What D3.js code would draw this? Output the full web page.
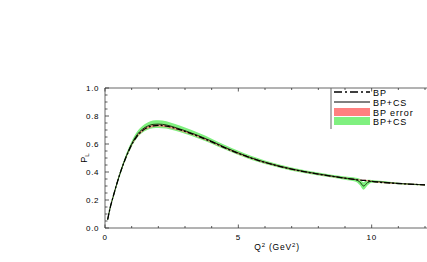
<!DOCTYPE html>
<html>
<head>
<meta charset="utf-8">
<script src="https://cdn.jsdelivr.net/npm/d3@7"></script>
<style>
  body { margin: 0; background: #fff; }
  svg text { font-family: "Liberation Sans", Arial, sans-serif; fill: #000; }
</style>
</head>
<body>
<div id="chart"></div>
<script>
// Q^2 sample points (GeV^2)
const q2 = [0.1, 0.2, 0.3, 0.45, 0.6, 0.8, 1.0, 1.2, 1.4, 1.6, 1.8, 2.0, 2.3, 2.6, 3.0, 3.5, 4.0, 4.5, 5.0, 5.5, 6, 7, 8, 9, 9.4, 9.55, 9.7, 9.85, 10, 11, 12]
// BP curve
const bp = [0.06, 0.15, 0.22, 0.32, 0.41, 0.51, 0.595, 0.655, 0.695, 0.718, 0.73, 0.733, 0.728, 0.714, 0.69, 0.655, 0.615, 0.572, 0.533, 0.498, 0.468, 0.42, 0.385, 0.356, 0.346, 0.343, 0.34, 0.338, 0.333, 0.318, 0.308]
// BP+CS curve
const bpcs = [0.06, 0.15, 0.22, 0.32, 0.41, 0.515, 0.6, 0.665, 0.705, 0.728, 0.74, 0.742, 0.736, 0.72, 0.695, 0.66, 0.62, 0.576, 0.536, 0.5, 0.47, 0.421, 0.386, 0.356, 0.345, 0.33, 0.3, 0.325, 0.333, 0.318, 0.308]
// half-widths of the error bands
const bpErr = [0.005, 0.006, 0.006, 0.006, 0.006, 0.006, 0.007, 0.007, 0.008, 0.008, 0.008, 0.008, 0.008, 0.008, 0.007, 0.007, 0.006, 0.006, 0.006, 0.005, 0.005, 0.005, 0.004, 0.004, 0.004, 0.004, 0.004, 0.004, 0.004, 0.004, 0.004]
const bpcsErr = [0.01, 0.012, 0.013, 0.014, 0.015, 0.017, 0.02, 0.022, 0.024, 0.026, 0.027, 0.027, 0.026, 0.024, 0.022, 0.02, 0.018, 0.016, 0.015, 0.014, 0.013, 0.012, 0.011, 0.011, 0.014, 0.022, 0.026, 0.02, 0.01, 0.006, 0.005]

const xTicks = [0, 5, 10]
const yTicks = [0, 0.2, 0.4, 0.6, 0.8, 1.0]
const legendItems = [
  { label: 'BP', kind: 'dashdot' },
  { label: 'BP+CS', kind: 'solid' },
  { label: 'BP error', kind: 'red' },
  { label: 'BP+CS', kind: 'green' }
]

const width = 427
const height = 262
const margin = { left: 105, top: 88, bottom: 34 }
const plotRight = 505

const svg = d3.select('#chart')
  .append('svg')
  .attr('width', width)
  .attr('height', height)

const x = d3.scaleLinear().domain([0, 15]).range([margin.left, plotRight])
const y = d3.scaleLinear().domain([0, 1]).range([height - margin.bottom, margin.top])

const rows = q2.map((q, i) => ({ q, bp: bp[i], bpcs: bpcs[i], e1: bpErr[i], e2: bpcsErr[i] }))

const green = d3.area().curve(d3.curveMonotoneX)
  .x(d => x(d.q)).y0(d => y(d.bpcs - d.e2)).y1(d => y(d.bpcs + d.e2))
const red = d3.area().curve(d3.curveMonotoneX)
  .x(d => x(d.q)).y0(d => y(d.bp - d.e1)).y1(d => y(d.bp + d.e1))

svg.append('path').datum(rows).attr('d', green).attr('fill', '#7ef07e')
svg.append('path').datum(rows).attr('d', red).attr('fill', '#ff8080').attr('opacity', 0.8)

const lineBp = d3.line().curve(d3.curveMonotoneX).x(d => x(d.q)).y(d => y(d.bp))
const lineCs = d3.line().curve(d3.curveMonotoneX).x(d => x(d.q)).y(d => y(d.bpcs))

svg.append('path').datum(rows).attr('d', lineCs)
  .attr('fill', 'none').attr('stroke', '#1a3a10').attr('stroke-width', 1)
svg.append('path').datum(rows).attr('d', lineBp)
  .attr('fill', 'none').attr('stroke', '#000').attr('stroke-width', 1.3)
  .attr('stroke-dasharray', '6,2,2,2')

// frame with inward ticks
const x0 = margin.left, yb = height - margin.bottom, yt = margin.top
svg.append('path')
  .attr('d', `M${plotRight},${yt}H${x0}V${yb}H${plotRight}`)
  .attr('fill', 'none').attr('stroke', '#666').attr('stroke-width', 1)

const minorY = d3.range(0, 1.0001, 0.05)
svg.append('g').selectAll('line').data(minorY).join('line')
  .attr('x1', x0).attr('x2', d => x0 + (yTicks.some(t => Math.abs(t - d) < 1e-6) ? 4 : 2.5))
  .attr('y1', d => y(d)).attr('y2', d => y(d))
  .attr('stroke', '#333').attr('stroke-width', 0.8)

const minorX = d3.range(0, 15.01, 1)
svg.append('g').selectAll('line').data(minorX).join('line')
  .attr('x1', d => x(d)).attr('x2', d => x(d))
  .attr('y1', yb).attr('y2', d => yb - (d % 5 === 0 ? 3.5 : 2))
  .attr('stroke', '#333').attr('stroke-width', 0.8)
svg.append('g').selectAll('line').data(minorX).join('line')
  .attr('x1', d => x(d)).attr('x2', d => x(d))
  .attr('y1', yt).attr('y2', d => yt + (d % 5 === 0 ? 3.5 : 2))
  .attr('stroke', '#333').attr('stroke-width', 0.8)

svg.append('g').selectAll('text').data(yTicks).join('text')
  .attr('x', x0 - 6).attr('y', d => y(d) + 3)
  .attr('text-anchor', 'end').attr('font-size', 8).attr('letter-spacing', 0.6)
  .text(d => d.toFixed(1))

svg.append('g').selectAll('text').data(xTicks).join('text')
  .attr('x', d => x(d)).attr('y', yb + 12)
  .attr('text-anchor', 'middle').attr('font-size', 8).attr('letter-spacing', 0.6)
  .text(d => d)

const xl = svg.append('text').attr('x', 277).attr('y', yb + 22)
  .attr('text-anchor', 'middle').attr('font-size', 8.5).attr('letter-spacing', 0.8)
xl.append('tspan').text('Q')
xl.append('tspan').attr('dy', -3).attr('font-size', 6).text('2')
xl.append('tspan').attr('dy', 3).text(' (GeV')
xl.append('tspan').attr('dy', -3).attr('font-size', 6).text('2')
xl.append('tspan').attr('dy', 3).text(')')

const yl = svg.append('text').attr('transform', 'translate(87,158) rotate(-90)')
  .attr('text-anchor', 'middle').attr('font-size', 9)
yl.append('tspan').text('P')
yl.append('tspan').attr('dy', 2).attr('font-size', 6).text('L')

// legend
const lg = svg.append('g')
lg.append('line').attr('x1', 331).attr('x2', 331).attr('y1', yt).attr('y2', 129)
  .attr('stroke', '#666').attr('stroke-width', 1)
const ly = [92, 102, 112, 121]
legendItems.forEach((item, i) => {
  const cy = ly[i]
  if (item.kind === 'dashdot') {
    lg.append('line').attr('x1', 334).attr('x2', 370).attr('y1', cy).attr('y2', cy)
      .attr('stroke', '#000').attr('stroke-width', 1.5).attr('stroke-dasharray', '8,3,2,3')
  } else if (item.kind === 'solid') {
    lg.append('line').attr('x1', 334).attr('x2', 370).attr('y1', cy).attr('y2', cy)
      .attr('stroke', '#000').attr('stroke-width', 1)
  } else {
    lg.append('rect').attr('x', 334).attr('y', cy - 4).attr('width', 36).attr('height', 8)
      .attr('fill', item.kind === 'red' ? '#ff8080' : '#80f080')
  }
  lg.append('text').attr('x', 373).attr('y', cy + 3.5)
    .attr('font-size', 9).attr('letter-spacing', 0.9).text(item.label)
})
</script>
</body>
</html>
